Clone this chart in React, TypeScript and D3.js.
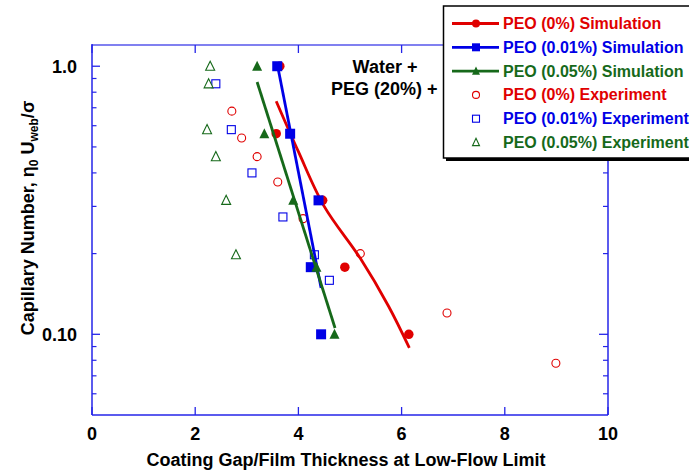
import React from "react";
import * as d3 from "d3";

const width = 689;
const height = 471;
const margin = { top: 45, right: 81, bottom: 56, left: 92 };

// simulation results share the same capillary numbers
const simCa = [1.0, 0.56, 0.316, 0.178, 0.1];
const peo0SimGap = [3.64, 3.57, 4.47, 4.9, 6.14];
const peo001SimGap = [3.59, 3.84, 4.39, 4.24, 4.44];
const peo005SimGap = [3.2, 3.34, 3.9, 4.35, 4.7];

// experiments: [gap, Ca]
const peo0Exp = [[2.71, 0.68], [2.9, 0.54], [3.2, 0.46], [3.6, 0.37], [4.09, 0.27], [5.2, 0.2], [6.88, 0.12], [8.99, 0.078]];
const peo001Exp = [[2.4, 0.86], [2.7, 0.58], [3.1, 0.4], [3.7, 0.274], [4.31, 0.198], [4.6, 0.159]];
const peo005Exp = [[2.29, 1.0], [2.26, 0.86], [2.23, 0.58], [2.4, 0.46], [2.6, 0.316], [2.79, 0.198]];

// fitted curves drawn through the simulations
const peo0Fit = [[3.57, 0.74], [4.0, 0.48], [4.5, 0.3], [5.2, 0.192], [5.75, 0.127], [6.15, 0.089]];
const peo001Fit = [[3.59, 1.02], [4.44, 0.149]];
const peo005Fit = [[3.2, 0.873], [4.71, 0.1056]];

const xTicks = [0, 2, 4, 6, 8, 10];
const yMajor = [1.0, 0.1];
const yMajorLabels = ["1.0", "0.10"];
const yMinor = [0.9, 0.8, 0.7, 0.6, 0.5, 0.4, 0.3, 0.2, 0.09, 0.08, 0.07, 0.06];

const legendLabels = [
  "PEO (0%) Simulation",
  "PEO (0.01%) Simulation",
  "PEO (0.05%) Simulation",
  "PEO (0%) Experiment",
  "PEO (0.01%) Experiment",
  "PEO (0.05%) Experiment"
];

const RED = "#e00000";
const BLUE = "#0000e6";
const GREEN = "#16691a";
const AXIS = "#2424e8";
const font = "'Liberation Sans', Arial, sans-serif";

const x = d3.scaleLinear().domain([0, 10]).range([margin.left, width - margin.right]);
const y = d3.scaleLog().domain([0.05, 1.2]).range([height - margin.bottom, margin.top]);

const fitLine = d3
  .line<number[]>()
  .x(d => x(d[0]))
  .y(d => y(d[1]))
  .curve(d3.curveCatmullRom);

const Marker = ({ shape, cx, cy, color, filled, size }) => {
  const fill = filled ? color : "white";
  const sw = filled ? 0 : 1.1;
  if (shape === "circle") {
    return <circle cx={cx} cy={cy} r={size / 2} fill={fill} stroke={color} strokeWidth={sw} />;
  }
  if (shape === "square") {
    return (
      <rect x={cx - size / 2} y={cy - size / 2} width={size} height={size} fill={fill} stroke={color} strokeWidth={sw} />
    );
  }
  const h = size * 0.9;
  const pts = [[cx, cy - h / 2 - 1], [cx + size / 2, cy + h / 2], [cx - size / 2, cy + h / 2]];
  return <polygon points={pts.map(p => p.join(",")).join(" ")} fill={fill} stroke={color} strokeWidth={sw} />;
};

const series = [
  { gaps: peo0SimGap, fit: peo0Fit, color: RED, shape: "circle", size: 9.5 },
  { gaps: peo001SimGap, fit: peo001Fit, color: BLUE, shape: "square", size: 10 },
  { gaps: peo005SimGap, fit: peo005Fit, color: GREEN, shape: "triangle", size: 10 }
];
const experiments = [
  { data: peo0Exp, color: RED, shape: "circle", size: 8 },
  { data: peo001Exp, color: BLUE, shape: "square", size: 8 },
  { data: peo005Exp, color: GREEN, shape: "triangle", size: 9 }
];

export default function App() {
  const x0 = x.range()[0];
  const x1 = x.range()[1];
  const yB = y.range()[0];
  const yT = y.range()[1];
  const legendColors = [RED, BLUE, GREEN, RED, BLUE, GREEN];
  const legendShapes = ["circle", "square", "triangle", "circle", "square", "triangle"];

  return (
    <svg width={width} height={height} style={{ position: "absolute", left: 0, top: 0, background: "white" }}>
      <rect width={width} height={height} fill="white" />

      {/* frame */}
      <line x1={x0} x2={x1} y1={yT} y2={yT} stroke="#8080f0" strokeWidth={2} />
      <line x1={x0} x2={x0} y1={yT - 1} y2={yB} stroke={AXIS} strokeWidth={1.5} />
      <line x1={x1} x2={x1} y1={yT - 1} y2={yB} stroke={AXIS} strokeWidth={1.5} />
      <line x1={x0} x2={x1} y1={yB} y2={yB} stroke={AXIS} strokeWidth={1.5} />

      {xTicks.map(t => (
        <g key={"xt" + t}>
          <line x1={x(t)} x2={x(t)} y1={yB} y2={yB - 8} stroke={AXIS} strokeWidth={1.3} />
          <line x1={x(t)} x2={x(t)} y1={yT} y2={yT + 8} stroke={AXIS} strokeWidth={1.3} />
          <text x={x(t)} y={439.5} textAnchor="middle" fontFamily={font} fontWeight="bold" fontSize={18}>
            {t}
          </text>
        </g>
      ))}

      {yMajor.map((t, i) => (
        <g key={"ym" + t}>
          <line x1={x0} x2={x0 + 8} y1={y(t)} y2={y(t)} stroke={AXIS} strokeWidth={1.3} />
          <line x1={x1} x2={x1 - 9} y1={y(t)} y2={y(t)} stroke={AXIS} strokeWidth={1.3} />
          <text x={77} y={y(t) + 6.5} textAnchor="end" fontFamily={font} fontWeight="bold" fontSize={18}>
            {yMajorLabels[i]}
          </text>
        </g>
      ))}
      {yMinor.map(t => (
        <g key={"yn" + t}>
          <line x1={x0} x2={x0 + 4.5} y1={y(t)} y2={y(t)} stroke={AXIS} strokeWidth={1.2} />
          <line x1={x1} x2={x1 - 5} y1={y(t)} y2={y(t)} stroke={AXIS} strokeWidth={1.2} />
        </g>
      ))}

      {/* axis titles */}
      <text x={346} y={466} textAnchor="middle" fontFamily={font} fontWeight="bold" fontSize={18}>
        Coating Gap/Film Thickness at Low-Flow Limit
      </text>
      <text
        transform="translate(34,218) rotate(-90)"
        textAnchor="middle"
        fontFamily={font}
        fontWeight="bold"
        fontSize={18}
      >
        Capillary Number, η<tspan fontSize={12} dy={4}>0</tspan>
        <tspan dy={-4}> U</tspan>
        <tspan fontSize={12} dy={4}>web</tspan>
        <tspan dy={-4}>/σ</tspan>
      </text>

      {/* annotation (partly hidden by legend) */}
      <text x={385} y={73} textAnchor="middle" fontFamily={font} fontWeight="bold" fontSize={18}>
        Water +
      </text>
      <text x={331} y={95} fontFamily={font} fontWeight="bold" fontSize={18}>
        PEG (20%) + PEO
      </text>

      {/* experiments */}
      {experiments.map((s, i) =>
        s.data.map((d, j) => (
          <Marker key={"e" + i + "-" + j} shape={s.shape} cx={x(d[0])} cy={y(d[1])} color={s.color} filled={false} size={s.size} />
        ))
      )}

      {/* simulations */}
      {series.map((s, i) => (
        <g key={"s" + i}>
          <path d={fitLine(s.fit)} fill="none" stroke={s.color} strokeWidth={2.8} />
          {s.gaps.map((g, j) => (
            <Marker key={j} shape={s.shape} cx={x(g)} cy={y(simCa[j])} color={s.color} filled size={s.size} />
          ))}
        </g>
      ))}

      {/* legend */}
      <rect x={446} y={9} width={250} height={152} fill="black" />
      <rect x={443.5} y={6} width={250} height={152} fill="white" stroke="black" strokeWidth={1.5} />
      {legendLabels.map((label, i) => {
        const ly = 23.5 + i * 23.8;
        const sim = i < 3;
        return (
          <g key={"lg" + i}>
            {sim && <line x1={452} x2={499} y1={ly} y2={ly} stroke={legendColors[i]} strokeWidth={2.8} />}
            <Marker
              shape={legendShapes[i]}
              cx={476}
              cy={ly}
              color={legendColors[i]}
              filled={sim}
              size={sim ? 8 : 7}
            />
            <text x={503} y={ly + 5.5} fontFamily={font} fontWeight="bold" fontSize={16} fill={legendColors[i]}>
              {label}
            </text>
          </g>
        );
      })}
    </svg>
  );
}
